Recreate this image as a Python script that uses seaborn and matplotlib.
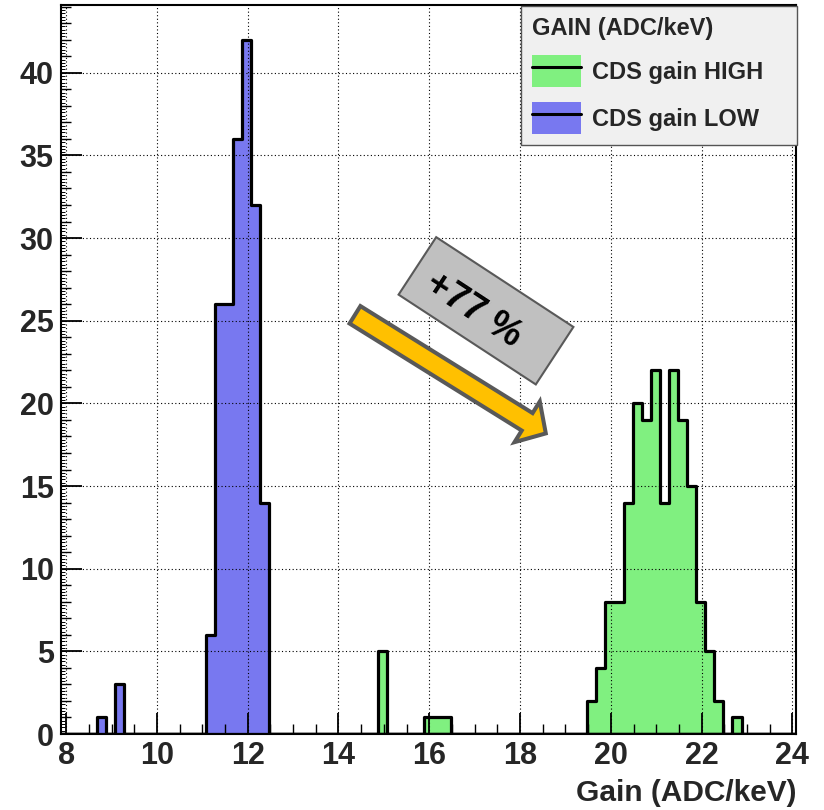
import numpy as np
import pandas as pd
import seaborn as sns
import matplotlib
matplotlib.use("Agg")
import matplotlib.pyplot as plt
from matplotlib.patches import Patch, Polygon, FancyArrowPatch, ArrowStyle
from matplotlib.lines import Line2D
from matplotlib.legend_handler import HandlerTuple
from matplotlib.ticker import MultipleLocator
from matplotlib.transforms import Affine2D

# ---- gain distributions (bin centre, entries per 0.2 ADC/keV bin) ----
low_centers = [8.78, 9.18, 11.18, 11.38, 11.58, 11.78, 11.98, 12.18, 12.38]
low_counts = [1, 3, 6, 26, 26, 36, 42, 32, 14]

high_centers = [14.98, 15.98, 16.18, 16.38,
                19.58, 19.78, 19.98, 20.18, 20.38, 20.58, 20.78, 20.98,
                21.18, 21.38, 21.58, 21.78, 21.98, 22.18, 22.38, 22.78]
high_counts = [5, 1, 1, 1,
               2, 4, 8, 8, 14, 20, 19, 22,
               14, 22, 19, 15, 8, 5, 2, 1]

labels = ["CDS gain HIGH", "CDS gain LOW"]
legend_title = "GAIN (ADC/keV)"
gain_increase = "+77 %"
x_title = "Gain (ADC/keV)"

x_min, x_max, n_bins = 7.88, 24.08, 81
y_max = 44.1

high_color = "#80f080"
low_color = "#7878f0"

sns.set_theme(style="ticks")
plt.rcParams["font.family"] = ["Liberation Sans", "DejaVu Sans"]
plt.rcParams["font.weight"] = "bold"

W, H = 824, 810
fig = plt.figure(figsize=(W / 100, H / 100), dpi=100)
ax = fig.add_axes([60.7 / W, 76 / H, (796 - 60.7) / W, (805 - 76) / H])

df = pd.concat([
    pd.DataFrame({"gain": high_centers, "n": high_counts, "mode": labels[0]}),
    pd.DataFrame({"gain": low_centers, "n": low_counts, "mode": labels[1]}),
], ignore_index=True)
edges = [float(e) for e in np.linspace(x_min, x_max, n_bins + 1)]

for lab, col in zip(labels, [high_color, low_color]):
    sub = df[df["mode"] == lab].reset_index(drop=True)
    sns.histplot(data=sub, x="gain", weights="n", bins=edges, element="step",
                 fill=True, color=col, alpha=1, edgecolor="black",
                 linewidth=2.3, ax=ax)

ax.set_xlim(x_min, x_max)
ax.set_ylim(0, y_max)
ax.set_ylabel("")

# axes, ticks and grid
ax.xaxis.set_major_locator(MultipleLocator(2))
ax.xaxis.set_minor_locator(MultipleLocator(0.5))
ax.yaxis.set_major_locator(MultipleLocator(5))
ax.yaxis.set_minor_locator(MultipleLocator(1))
ax.tick_params(which="major", direction="in", length=15, width=1.3,
               labelsize=22, color="black", top=False, right=False)
ax.tick_params(axis="y", which="major", pad=5)
ax.tick_params(axis="x", which="major", pad=5)
ax.tick_params(which="minor", direction="in", length=7.5, width=1.0,
               color="black", top=False, right=False)
for lbl in ax.get_xticklabels() + ax.get_yticklabels():
    lbl.set_fontweight("bold")
sec = ax.secondary_yaxis("left")
sec.yaxis.set_major_locator(MultipleLocator(0.2))
sec.tick_params(direction="in", length=3, width=0.7, labelleft=False, color="black")
for s in sec.spines.values():
    s.set_visible(False)

for s in ax.spines.values():
    s.set_color("black")
    s.set_linewidth(1.5)

ax.set_axisbelow(False)
ax.grid(True, which="major", color="black", linestyle=(0, (1, 2.2)), linewidth=0.8)

ax.set_xlabel(x_title, loc="right", fontsize=21.5, fontweight="bold", labelpad=6)

# legend: filled box with a black line through it for each histogram
handles = [(Patch(facecolor=high_color, edgecolor="none"), Line2D([], [], color="black", lw=2.2)),
           (Patch(facecolor=low_color, edgecolor="none"), Line2D([], [], color="black", lw=2.2))]
leg = ax.legend(handles, labels, title=legend_title, loc="upper left",
                bbox_to_anchor=(520.7 / W, 1 - 143 / H, 276.3 / W, 137 / H),
                bbox_transform=fig.transFigure, mode="expand", borderaxespad=0,
                handler_map={tuple: HandlerTuple(ndivide=1, pad=0)},
                prop={"weight": "bold", "size": 17},
                title_fontproperties={"weight": "bold", "size": 17},
                alignment="left", borderpad=0.47, labelspacing=0.63,
                handlelength=2.08, handleheight=1.71, handletextpad=0.45,
                fancybox=False, framealpha=1, facecolor="#f0f0f0",
                edgecolor="#555555")
leg.get_frame().set_linewidth(1.0)
leg.set_zorder(10)

# annotation: arrow and rotated label box (canvas pixel coordinates, y down)
px = Affine2D().scale(1 / W, -1 / H).translate(0, 1) + fig.transFigure

arrow = FancyArrowPatch(posA=(355, 314.8), posB=(545.8, 433.4),
                        arrowstyle=ArrowStyle.Simple(head_length=15.8, head_width=34.5,
                                                     tail_width=14.8),
                        mutation_scale=1, shrinkA=0, shrinkB=0, transform=px,
                        facecolor="#ffc000", edgecolor="#595959", linewidth=2.9,
                        joinstyle="miter", zorder=6, clip_on=False)
fig.add_artist(arrow)

cx, cy, L, S, th = 486.0, 310.8, 164.0, 68.7, np.deg2rad(33.2)
u = np.array([np.cos(th), np.sin(th)])
v = np.array([-np.sin(th), np.cos(th)])
c = np.array([cx, cy])
corners = [c - L / 2 * u - S / 2 * v, c + L / 2 * u - S / 2 * v,
           c + L / 2 * u + S / 2 * v, c - L / 2 * u + S / 2 * v]
box = Polygon(corners, closed=True, transform=px, facecolor="#c0c0c0",
              edgecolor="#595959", linewidth=1.5, zorder=6)
fig.add_artist(box)
fig.text(473, 310, gain_increase, transform=px, rotation=-33.2,
         rotation_mode="anchor", ha="center", va="center",
         fontsize=27, fontweight="bold", color="black", zorder=7)

fig.savefig("out.png", dpi=100)
